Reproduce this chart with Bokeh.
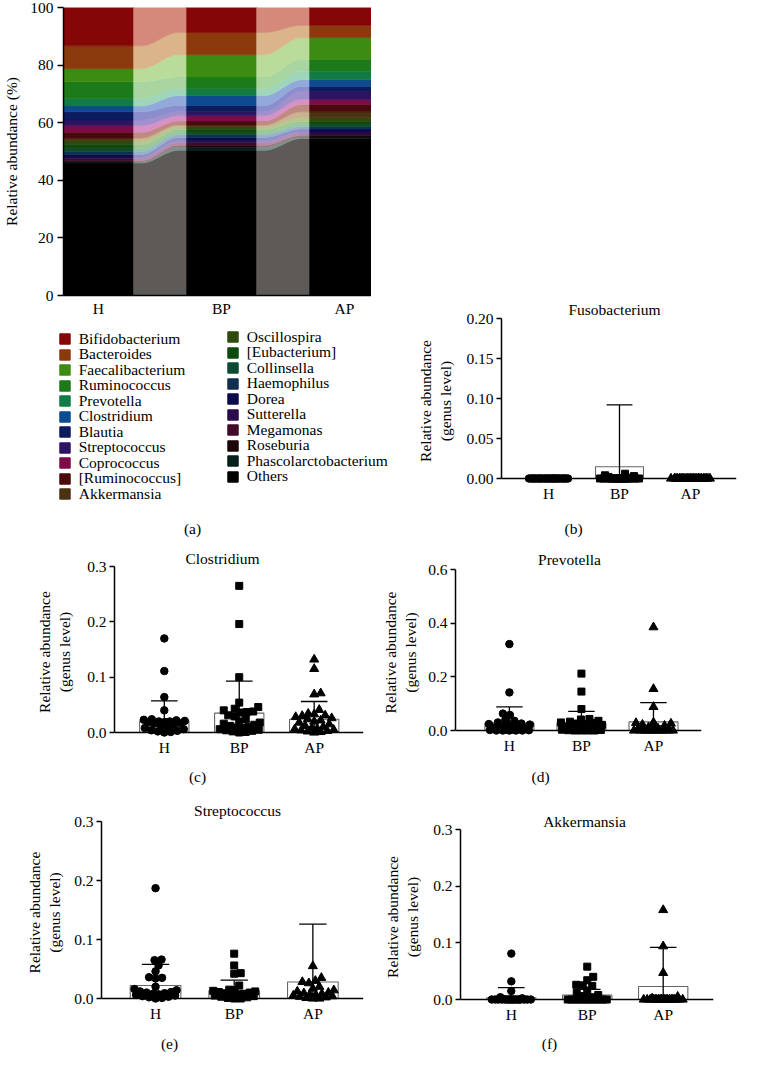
import math
from bokeh.plotting import figure
from bokeh.layouts import column, row
from bokeh.models import (Range1d, FixedTicker, PrintfTickFormatter, Label, Legend,
                          LegendItem, ColumnDataSource, Spacer, Span)
from bokeh.embed import file_html
from bokeh.resources import INLINE

# ------------------------------------------------------------------ data
groups = ["H", "BP", "AP"]

taxa = ["Bifidobacterium", "Bacteroides", "Faecalibacterium", "Ruminococcus",
        "Prevotella", "Clostridium", "Blautia", "Streptococcus", "Coprococcus",
        "[Ruminococcus]", "Akkermansia", "Oscillospira", "[Eubacterium]",
        "Collinsella", "Haemophilus", "Dorea", "Sutterella", "Megamonas",
        "Roseburia", "Phascolarctobacterium", "Others"]

# relative abundance (%) per group, in legend order
abund_h = [13.3, 8.0, 4.5, 5.7, 2.7, 2.0, 2.9, 1.9, 2.3, 2.0, 0.9, 1.4, 1.3,
           1.2, 0.9, 0.9, 0.6, 0.7, 0.4, 0.4, 46.0]
abund_bp = [8.7, 7.7, 7.7, 4.0, 2.5, 3.4, 2.2, 1.4, 1.8, 1.4, 0.6, 0.9, 1.1,
            0.8, 0.9, 1.1, 0.8, 0.8, 0.7, 1.1, 50.4]
abund_ap = [6.2, 4.3, 7.6, 4.0, 3.0, 2.3, 1.8, 2.7, 1.8, 2.5, 2.1, 1.3, 1.1,
            0.7, 0.8, 1.0, 0.7, 0.5, 0.6, 0.5, 54.5]

# genus-level relative abundance, individual samples
fuso_h = [0.0, 0.0, 0.0, 0.0, 0.0, 0.0, 0.0, 0.0, 0.0, 0.0, 0.0, 0.0, 0.0,
          0.0, 0.0, 0.0, 0.0, 0.0, 0.0, 0.0, 0.0, 0.0, 0.0, 0.0, 0.0, 0.0]
fuso_bp = [0.006, 0.004, 0.003, 0.002, 0.001, 0.0, 0.0, 0.0, 0.0, 0.0, 0.0,
           0.0, 0.0, 0.0, 0.0, 0.0, 0.0, 0.0, 0.0, 0.0, 0.0, 0.0, 0.0, 0.0]
fuso_ap = [0.0, 0.0, 0.0, 0.0, 0.0, 0.0, 0.0, 0.0, 0.0, 0.0, 0.0, 0.0, 0.0,
           0.0, 0.0, 0.0, 0.0, 0.0, 0.0, 0.0, 0.0, 0.0, 0.0, 0.0]
fuso_mean = [0.0, 0.0147, 0.0]
fuso_sd = [0.0, 0.0773, 0.0]

clo_h = [0.170, 0.111, 0.064, 0.040, 0.024, 0.023, 0.022, 0.021, 0.020, 0.020,
         0.019, 0.018, 0.017, 0.016, 0.014, 0.012, 0.010, 0.008, 0.006, 0.004,
         0.003, 0.002, 0.001, 0.0]
clo_bp = [0.265, 0.196, 0.100, 0.054, 0.046, 0.043, 0.040, 0.038, 0.037, 0.036,
          0.031, 0.029, 0.024, 0.020, 0.018, 0.016, 0.014, 0.012, 0.010, 0.009,
          0.008, 0.006, 0.005, 0.004, 0.003, 0.002, 0.001, 0.0]
clo_ap = [0.132, 0.115, 0.071, 0.069, 0.041, 0.034, 0.033, 0.031, 0.030, 0.028,
          0.026, 0.024, 0.022, 0.020, 0.018, 0.015, 0.012, 0.010, 0.008, 0.007,
          0.006, 0.005, 0.004, 0.003, 0.002, 0.001, 0.0]
clo_mean = [0.0207, 0.035, 0.024]
clo_sd = [0.0363, 0.058, 0.032]

prev_h = [0.322, 0.142, 0.063, 0.058, 0.040, 0.036, 0.030, 0.026, 0.024, 0.022,
          0.020, 0.016, 0.012, 0.010, 0.008, 0.006, 0.005, 0.004, 0.003, 0.002,
          0.001, 0.0, 0.0, 0.0, 0.0, 0.0]
prev_bp = [0.212, 0.145, 0.080, 0.043, 0.041, 0.036, 0.033, 0.030, 0.028, 0.026,
           0.024, 0.021, 0.018, 0.015, 0.012, 0.010, 0.008, 0.006, 0.004, 0.003,
           0.002, 0.001, 0.0, 0.0, 0.0, 0.0]
prev_ap = [0.385, 0.155, 0.088, 0.030, 0.028, 0.026, 0.022, 0.018, 0.012, 0.008,
           0.005, 0.003, 0.002, 0.001, 0.0, 0.0, 0.0, 0.0, 0.0, 0.0, 0.0, 0.0,
           0.0, 0.0, 0.0]
prev_mean = [0.028, 0.028, 0.032]
prev_sd = [0.060, 0.043, 0.072]

str_h = [0.187, 0.066, 0.065, 0.056, 0.046, 0.036, 0.035, 0.034, 0.020, 0.016,
         0.014, 0.012, 0.011, 0.010, 0.009, 0.008, 0.007, 0.006, 0.005, 0.004,
         0.003, 0.002, 0.001, 0.0]
str_bp = [0.076, 0.056, 0.043, 0.042, 0.022, 0.015, 0.014, 0.013, 0.012, 0.011,
          0.010, 0.009, 0.008, 0.007, 0.006, 0.005, 0.004, 0.003, 0.002, 0.001,
          0.0, 0.0]
str_ap = [0.055, 0.035, 0.030, 0.028, 0.026, 0.020, 0.017, 0.014, 0.012, 0.010,
          0.009, 0.008, 0.007, 0.006, 0.005, 0.004, 0.003, 0.002, 0.001, 0.0, 0.0]
str_mean = [0.022, 0.013, 0.028]
str_sd = [0.036, 0.018, 0.098]

akk_h = [0.081, 0.032, 0.015, 0.004, 0.002, 0.001, 0.0, 0.0, 0.0, 0.0, 0.0,
         0.0, 0.0, 0.0, 0.0, 0.0, 0.0, 0.0, 0.0, 0.0, 0.0, 0.0, 0.0, 0.0]
akk_bp = [0.058, 0.040, 0.034, 0.026, 0.025, 0.024, 0.016, 0.012, 0.008, 0.006,
          0.004, 0.002, 0.001, 0.0, 0.0, 0.0, 0.0, 0.0, 0.0, 0.0, 0.0, 0.0,
          0.0, 0.0, 0.0, 0.0]
akk_ap = [0.158, 0.094, 0.047, 0.005, 0.002, 0.0, 0.0, 0.0, 0.0, 0.0, 0.0,
          0.0, 0.0, 0.0, 0.0, 0.0, 0.0, 0.0, 0.0, 0.0, 0.0, 0.0, 0.0, 0.0, 0.0]
akk_mean = [0.003, 0.008, 0.023]
akk_sd = [0.018, 0.010, 0.069]

# ------------------------------------------------------------------ styles
taxa_colors = ["#850606", "#8a3a0c", "#3d8c12", "#1c7a18", "#127a45", "#0d4a8f",
               "#0c1a5e", "#2c1462", "#7c0c48", "#4a0a0c", "#4a3212", "#2e4a10",
               "#0e4a10", "#0e4a30", "#10304f", "#0a0c4e", "#2a0c4c", "#420a2a",
               "#1a0606", "#061e1c", "#000000"]
trans_colors = ["#d4897a", "#dcb48a", "#b9dc9a", "#a9d5a0", "#9fd6bb", "#92a9dc",
                "#8c8dcc", "#a290cc", "#d891c4", "#c08a80", "#c8b48e", "#b4c890",
                "#9cc896", "#94c4b0", "#98b0cc", "#9090c8", "#a890c4", "#b48ca8",
                "#9a7a78", "#7a9290", "#5e5a57"]

FONT = "Liberation Serif"
FSN = 15.5
FS = "15.5px"
SX, SY = 0.977, 0.983
PAD = 5  # px below the zero line so that points at 0 are not clipped

# approximate Times-like advance widths (per 1000 em), for centering titles
CW = {"C": 667, "l": 278, "o": 500, "s": 389, "t": 278, "r": 333, "i": 278,
      "d": 500, "u": 500, "m": 778, "P": 556, "e": 444, "v": 500, "a": 444,
      "S": 556, "p": 500, "c": 444, "A": 722, "k": 500, "n": 500, "F": 556,
      "b": 500}


def text_w(s):
    return sum(CW.get(ch, 500) for ch in s) * FSN / 1000.0


def X(v):
    return int(round(v * SX))


def Y(v):
    return int(round(v * SY))


def wrap(p):
    # an own container for each figure keeps Bokeh from aligning sibling frames
    return column(p)


def style_axes(p):
    for ax in (p.xaxis[0], p.yaxis[0]):
        ax.axis_line_color = "black"
        ax.axis_line_width = 1.5
        ax.minor_tick_line_color = None
        ax.major_label_text_font = FONT
        ax.major_label_text_font_size = FS
        ax.major_label_text_color = "black"
        ax.axis_label_text_font = FONT
        ax.axis_label_text_font_size = FS
        ax.axis_label_text_font_style = "normal"
        ax.axis_label_text_color = "black"
    xa = p.xaxis[0]
    xa.ticker = FixedTicker(ticks=[0, 1, 2])
    xa.major_label_overrides = {0: groups[0], 1: groups[1], 2: groups[2]}
    xa.major_tick_line_color = None
    xa.major_tick_out = 0
    xa.major_tick_in = 0
    ya = p.yaxis[0]
    ya.major_tick_line_color = "black"
    ya.major_tick_line_width = 1.3
    ya.major_tick_in = 0


def blank_fig(w, h):
    p = figure(width=w, height=h, x_range=Range1d(0, 1), y_range=Range1d(0, 1),
               min_border_left=0, min_border_right=0, min_border_top=0,
               min_border_bottom=0, toolbar_location=None, output_backend="svg",
               outline_line_color=None, x_axis_location=None, y_axis_location=None)
    p.xgrid.visible = False
    p.ygrid.visible = False
    return p


def add_label(p, x, y, text):
    p.add_layout(Label(x=x, y=y, x_units="screen", y_units="screen", text=text,
                       text_align="center", text_baseline="middle",
                       text_font=FONT, text_font_size=FS, text_color="black"))


def strip(w, h, ox, oy, text, rx, ry):
    p = blank_fig(w, h)
    add_label(p, X(rx) - ox, oy + h - ry, text)
    return p


def swarm(vals, ypp, half_px, dist):
    order = sorted(range(len(vals)), key=lambda i: vals[i])
    cands = [0.0]
    k = 1
    while k * 0.5 <= half_px:
        cands += [k * 0.5, -k * 0.5]
        k += 1
    placed = []
    offs = [0.0] * len(vals)
    for i in order:
        y = vals[i] * ypp
        best, bestd = 0.0, -1.0
        for c in cands:
            md = min((math.hypot(c - px, y - py) for px, py in placed), default=1e9)
            if md >= dist:
                best = c
                break
            if md > bestd:
                bestd, best = md, c
        placed.append((best, y))
        offs[i] = best
    return offs


MARKERS = [("circle", 7.5), ("square", 7.0), ("triangle", 9.0)]


def genus_panel(title, data, means, sds, ymax, yticks, fmt, w, h, ox, oy,
                frame_ref, c0, sp, bar_px, title_pos, lab_so):
    fl = X(frame_ref[0]) - ox
    ft = Y(frame_ref[1]) - oy
    fr = ox + w - X(frame_ref[2])
    zero_y = Y(frame_ref[3])
    fb = oy + h - (zero_y + PAD)
    frame_w = w - fl - fr
    frame_h = h - ft - fb
    ypp = (frame_h - PAD) / ymax
    xs = (frame_ref[0] - c0) / sp
    xe = (frame_ref[2] - c0) / sp
    xpp = frame_w / (xe - xs)
    bw = bar_px / sp
    p = figure(width=w, height=h, x_range=Range1d(xs, xe),
               y_range=Range1d(-PAD / ypp, ymax),
               min_border_left=fl, min_border_right=fr, min_border_top=ft,
               min_border_bottom=fb, toolbar_location=None, output_backend="svg",
               outline_line_color=None, background_fill_color="white",
               border_fill_color="white")
    p.xgrid.visible = False
    p.ygrid.visible = False
    xg = [0, 1, 2]
    p.vbar(x=xg, top=means, width=bw, fill_color="white", line_color="#666666",
           line_width=1.1)
    lo = [max(0.0, m - s) for m, s in zip(means, sds)]
    hi = [m + s for m, s in zip(means, sds)]
    cap = bw * 0.27
    p.segment(x0=xg, y0=lo, x1=xg, y1=hi, line_color="black", line_width=1.3)
    p.segment(x0=[g - cap for g in xg], y0=hi, x1=[g + cap for g in xg], y1=hi,
              line_color="black", line_width=1.3)
    p.add_layout(Span(location=0, dimension="width", line_color="black",
                      line_width=1.5))
    for g, vals in enumerate(data):
        marker, size = MARKERS[g]
        offs = swarm(vals, ypp, bw * xpp / 2 - 4, 6.5)
        p.scatter([g + o / xpp for o in offs], vals, marker=marker, size=size,
                  fill_color="black", line_color="black")
    style_axes(p)
    xa = p.xaxis[0]
    xa.axis_line_color = None
    xa.major_label_standoff = 1
    ya = p.yaxis[0]
    ya.bounds = (0, ymax)
    ya.ticker = FixedTicker(ticks=yticks)
    ya.formatter = PrintfTickFormatter(format=fmt)
    ya.major_tick_out = 5
    ya.major_label_standoff = 3
    ya.axis_label = "Relative abundance\n(genus level)"
    ya.axis_label_standoff = lab_so
    # title
    cx, cy = X(title_pos[0]), Y(title_pos[1])
    frame_top = oy + ft
    so = 2 * (frame_top - 9 - cy)
    so = max(0, min(so, ft - 19))
    p.title.text = title
    p.title.align = "left"
    p.title.offset = cx - text_w(title) / 2 - (ox + fl)
    p.title.vertical_align = "bottom"
    p.title.standoff = so
    p.title.text_font = FONT
    p.title.text_font_size = FS
    p.title.text_font_style = "normal"
    p.title.text_color = "black"
    return p


# ------------------------------------------------------------------ panel (a)
A_W, A_H = 371, 319
c0a, spa, bar_a = 98.0, 127.0, 73.0
xs_a = (62 - c0a) / spa
xe_a = (380 - c0a) / spa
BW_A = bar_a / spa
fa = figure(width=A_W, height=A_H, x_range=Range1d(xs_a, xe_a), y_range=Range1d(0, 100),
            min_border_left=X(62), min_border_right=0, min_border_top=Y(7),
            min_border_bottom=A_H - Y(301), toolbar_location=None,
            output_backend="svg", outline_line_color=None)
fa.xgrid.visible = False
fa.ygrid.visible = False

stack_order = taxa[::-1]
src = ColumnDataSource(dict(x=[0, 1, 2], **{t: [abund_h[i], abund_bp[i], abund_ap[i]]
                                          for i, t in enumerate(taxa)}))
fa.vbar_stack(stack_order, x="x", width=BW_A, source=src, line_width=0.6,
              color=[taxa_colors[taxa.index(t)] for t in stack_order])


def cumul(vals):
    c = [0.0]
    for t in stack_order:
        c.append(c[-1] + vals[taxa.index(t)])
    return c


cums = [cumul(abund_h), cumul(abund_bp), cumul(abund_ap)]
NT = 48
ts = [i / (NT - 1) for i in range(NT)]


def ease(t):
    u = min(1.0, max(0.0, (t - 0.15) / 0.7))
    return u * u * (3 - 2 * u)


pxs, pys, pcs = [], [], []
for g in range(2):
    x0 = g + BW_A / 2
    x1 = g + 1 - BW_A / 2
    for k, t in enumerate(stack_order):
        lo0, lo1 = cums[g][k], cums[g + 1][k]
        hi0, hi1 = cums[g][k + 1], cums[g + 1][k + 1]
        xx = [x0 + (x1 - x0) * tt for tt in ts]
        top = [hi0 + (hi1 - hi0) * ease(tt) for tt in ts]
        bot = [lo0 + (lo1 - lo0) * ease(tt) for tt in ts]
        pxs.append(xx + xx[::-1])
        pys.append(top + bot[::-1])
        pcs.append(trans_colors[taxa.index(t)])
fa.patches(pxs, pys, fill_color=pcs, line_color=pcs, line_width=0.6)

style_axes(fa)
fa.yaxis[0].ticker = FixedTicker(ticks=[0, 20, 40, 60, 80, 100])
fa.yaxis[0].major_tick_out = 6
fa.yaxis[0].major_label_standoff = 4
fa.yaxis[0].axis_label = "Relative abundance (%)"
fa.yaxis[0].axis_label_standoff = 7
fa.xaxis[0].major_label_standoff = 4

# legend figures: one single-entry legend per row, so the row pitch matches
LEG_H = 227
ROW_PITCH = 15.8 * SY
ITEM_H = 17.0


def legend_fig(w, ox, items, sw_left_ref, row1_ref):
    p = blank_fig(w, LEG_H)
    gx = X(sw_left_ref) - 1.3 - ox
    for i, name in enumerate(items):
        c = taxa_colors[taxa.index(name)]
        # legend-only renderer (its single bar lies outside the visible range)
        r = p.vbar(x=[5], top=[5], bottom=[4], width=0.5, fill_color=c, line_color=c)
        rc = Y(row1_ref) + i * ROW_PITCH - A_H
        vy = LEG_H - rc - ITEM_H / 2
        leg = Legend(items=[LegendItem(label=name, renderers=[r])],
                     location=(gx, vy), margin=0, padding=0, spacing=0,
                     glyph_width=13, glyph_height=13, label_height=13,
                     label_standoff=8, label_text_font=FONT,
                     label_text_font_size=FS, label_text_color="black",
                     border_line_color=None, background_fill_alpha=0)
        p.add_layout(leg)
    return p


fl1 = legend_fig(220, 0, taxa[:11], 60, 345)
fl2 = legend_fig(180, 220, taxa[11:], 232, 343)
add_label(fl1, X(197), LEG_H - (Y(537) - A_H), "(a)")

# ------------------------------------------------------------------ panels (b)-(f)
fb = genus_panel("Fusobacterium", [fuso_h, fuso_bp, fuso_ap], fuso_mean, fuso_sd,
                 0.2, [0.0, 0.05, 0.10, 0.15, 0.20], "%.2f", 340, 222, 400, 290,
                 (513, 323, 753, 486), 561.0, 72.5, 49.0, (628, 313), 9)
sb = strip(340, 34, 400, 512, "(b)", 587, Y(537))
fc = genus_panel("Clostridium", [clo_h, clo_bp, clo_ap], clo_mean, clo_sd,
                 0.3, [0.0, 0.1, 0.2, 0.3], "%.1f", 371, 214, 0, 546,
                 (117, 576, 372, 745), 168.0, 76.75, 50.5, (227, 567), 11)
sc = strip(371, 26, 0, 760, "(c)", 202, 776)
fd = genus_panel("Prevotella", [prev_h, prev_bp, prev_ap], prev_mean, prev_sd,
                 0.6, [0.0, 0.2, 0.4, 0.6], "%.1f", 369, 214, 371, 546,
                 (466, 579, 717, 743), 521.0, 73.5, 50.0, (582, 567), 6)
sd = strip(369, 26, 371, 760, "(d)", 553, 776)
fe = genus_panel("Streptococcus", [str_h, str_bp, str_ap], str_mean, str_sd,
                 0.3, [0.0, 0.1, 0.2, 0.3], "%.1f", 371, 242, 0, 786,
                 (103, 835, 372, 1015), 158.5, 80.75, 52.0, (243, 823), 8)
se = strip(371, 26, 0, 1028, "(e)", 173, 1043)
ff = genus_panel("Akkermansia", [akk_h, akk_bp, akk_ap], akk_mean, akk_sd,
                 0.3, [0.0, 0.1, 0.2, 0.3], "%.1f", 369, 242, 371, 786,
                 (471, 843, 730, 1016), 523.0, 77.75, 50.5, (598, 838), 9)
sf = strip(369, 26, 371, 1028, "(f)", 562, 1043)

left_top = column(wrap(fa), row(wrap(fl1), wrap(fl2)))
right_top = column(Spacer(width=340, height=290), wrap(fb), wrap(sb))
layout = column(row(left_top, right_top),
                row(wrap(fc), wrap(fd)), row(wrap(sc), wrap(sd)),
                row(wrap(fe), wrap(ff)), row(wrap(se), wrap(sf)))

open("out.html", "w").write(file_html(layout, INLINE, title="Relative abundance"))
